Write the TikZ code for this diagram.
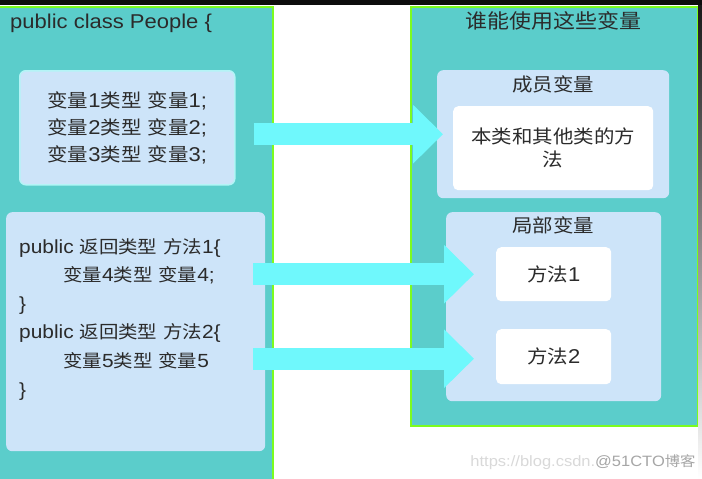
\documentclass[tikz,border=0pt]{standalone}
\usepackage{fontspec}
\setmainfont[FakeStretch=1.1]{Liberation Sans}
\newfontfamily\zhfont[FakeStretch=1.1,Scale=0.93]{Noto Sans CJK SC}
\newcommand\zh[1]{{\zhfont #1}}
\usetikzlibrary{arrows.meta,positioning}
\definecolor{panelteal}{HTML}{5BCDCB}
\definecolor{panelline}{HTML}{7CFC1E}
\definecolor{boxblue}{HTML}{CDE4F9}
\definecolor{boxedge}{HTML}{B4F4F6}
\definecolor{arrowcyan}{HTML}{6FF8FC}
\definecolor{textgray}{HTML}{2B2B2B}

\begin{document}
\begin{tikzpicture}[
  x=1pt, y=-1pt,
  font=\fontsize{20}{26}\selectfont, text=textgray,
  panel/.style={fill=panelteal, draw=panelline, line width=2pt, anchor=north west, inner sep=0pt},
  group/.style={fill=boxblue, rounded corners=6pt, anchor=north west, inner sep=0pt, align=center},
  item/.style={fill=white, rounded corners=5pt, anchor=north west, inner sep=0pt, align=center},
  heading/.style={anchor=base, inner sep=0pt, font=\fontsize{20}{26}\selectfont\zhfont},
  bigarrow/.style={draw=arrowcyan, line width=22pt, -{Triangle[length=30pt,width=57pt]}}
]
\useasboundingbox (0,0) rectangle (702,479);
\fill[white] (0,0) rectangle (702,479);

% two panels
\node[panel, minimum width=276pt, minimum height=480pt] (cls) at (-4,6) {};
\node[panel, minimum width=287pt, minimum height=419pt] (who) at (410,6) {};
\node[anchor=base west, inner sep=0pt] (clstitle) at (10,28) {public class People \{};
\node[heading, font=\fontsize{21.5}{26}\selectfont\zhfont] (whotitle) at (553.5,28) {谁能使用这些变量};

% left side
\node[group, draw=boxedge, line width=1.5pt, minimum width=215pt, minimum height=114pt,
  font=\fontsize{20}{27}\selectfont] (vars) at (19,70)
  {\zh{变量}1\zh{类型} \zh{变量}1;\\\zh{变量}2\zh{类型} \zh{变量}2;\\\zh{变量}3\zh{类型} \zh{变量}3;};
\node[group, minimum width=259pt, minimum height=239pt] (methods) at (6,212) {};
\node[anchor=north west, inner sep=0pt, align=left, font=\fontsize{19}{28.6}\selectfont] (code) at (19,238)
  {public \zh{返回类型} \zh{方法}1\{\\\hspace*{44pt}\zh{变量}4\zh{类型} \zh{变量}4;\\\}\\
   public \zh{返回类型} \zh{方法}2\{\\\hspace*{44pt}\zh{变量}5\zh{类型} \zh{变量}5\\\}};

% right side
\node[group, minimum width=232pt, minimum height=128pt] (member) at (437,70) {};
\node[heading] (membertitle) at (553,91) {成员变量};
\node[item, minimum width=200pt, minimum height=84pt, font=\fontsize{20}{23}\selectfont\zhfont] (memberuse) at (453,106)
  {本类和其他类的方\\法};
\node[group, minimum width=215pt, minimum height=189pt] (local) at (446,212) {};
\node[heading] (localtitle) at (553,232) {局部变量};
\node[item, minimum width=115pt, minimum height=54pt] (m1) at (496,247) {\zh{方法}1};
\node[item, minimum width=115pt, minimum height=55pt] (m2) at (496,329) {\zh{方法}2};

% arrows
\draw[bigarrow] (vars.east |- member.west) ++(18,0) -- ([xshift=6pt]member.west);
\draw[bigarrow] (methods.east |- m1.west) ++(-12,0) -- ([xshift=-22pt]m1.west);
\draw[bigarrow] (methods.east |- m2.west) ++(-12,2) -- ([xshift=-22pt,yshift=-2pt]m2.west);

% screenshot edges and watermark
\fill[black!95] (0,0) rectangle (702,5);
\shade[top color=black!90, bottom color=white] (698,5) rectangle (702,479);
\node[anchor=base, inner sep=0pt, font=\fontsize{15}{18}\selectfont] (mark) at (583,466)
  {\color{black!15}https://blog.csdn.\color{black!35}@51CTO\zh{博客}};
\end{tikzpicture}
\end{document}
